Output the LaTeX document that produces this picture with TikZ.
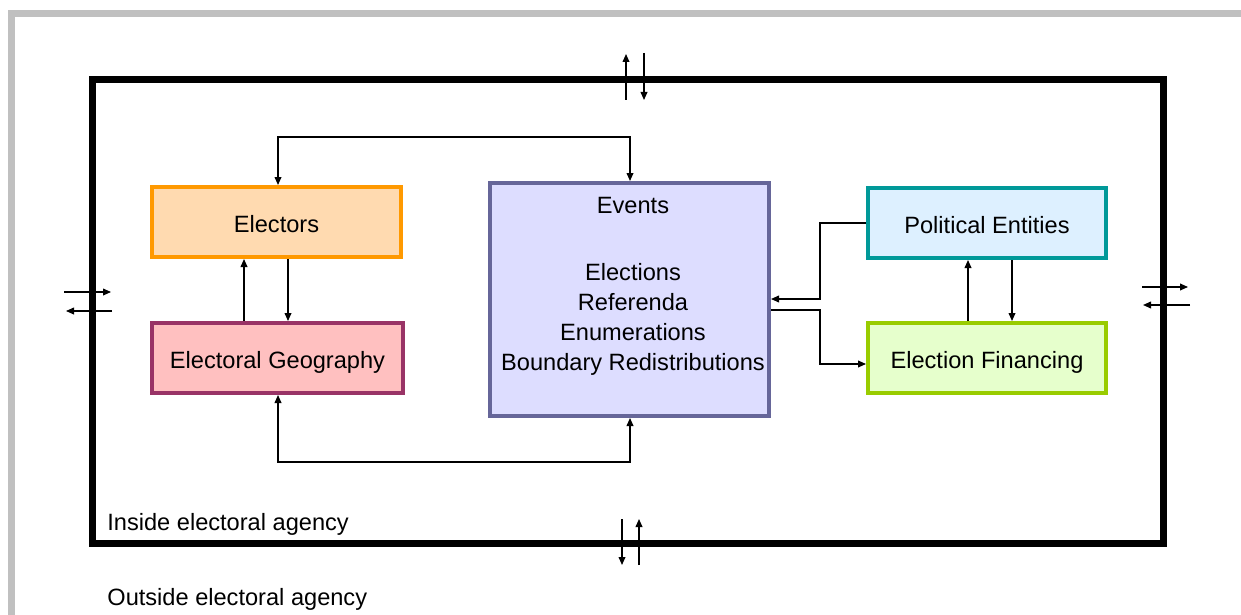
\documentclass[tikz,border=0pt]{standalone}
\usepackage{fontspec}
\setmainfont{Liberation Sans}
\usetikzlibrary{arrows.meta,calc}

\definecolor{pagegray}{HTML}{C0C0C0}
\definecolor{elBorder}{HTML}{FF9900}
\definecolor{elFill}{HTML}{FFDAB0}
\definecolor{egBorder}{HTML}{993366}
\definecolor{egFill}{HTML}{FFC0C0}
\definecolor{evBorder}{HTML}{666699}
\definecolor{evFill}{HTML}{DDDDFF}
\definecolor{peBorder}{HTML}{009999}
\definecolor{peFill}{HTML}{DDF0FF}
\definecolor{efBorder}{HTML}{99CC00}
\definecolor{efFill}{HTML}{E6FFCC}

\begin{document}
\begin{tikzpicture}[x=0.5pt,y=-0.5pt,
  font=\fontsize{11.8pt}{15pt}\selectfont,
  tip/.tip={Triangle[length=4pt,width=3.4pt]},
  conn/.style={line width=0.65pt,-tip},
  twoway/.style={line width=0.65pt,tip-tip},
  unit/.style={draw,line width=2pt,inner sep=0pt,minimum height=35pt,
    text height=10pt,text depth=0pt},
  txt/.style={inner sep=0pt}]

\useasboundingbox (0,0) rectangle (1241,615);

% page edge
\draw[pagegray,line width=3.5pt] (11.5,615) -- (11.5,13.4) -- (1241,13.4);

% agency boundary
\node[draw,line width=3.5pt,minimum width=535.5pt,minimum height=231.5pt,inner sep=0pt]
  (frame) at (627.5,311.5) {};

% units
\node[unit,draw=elBorder,fill=elFill,minimum width=124.5pt] (el) at (276.5,222) {Electors};
\node[unit,draw=egBorder,fill=egFill,minimum width=125.5pt] (eg) at (277.5,358) {Electoral Geography};
\node[draw,line width=2pt,inner sep=0pt,draw=evBorder,fill=evFill,
  minimum width=139.5pt,minimum height=116.5pt] (ev) at (629.5,299.5) {};
\node[txt] (evtitle) at (633,205) {Events};
\node[txt,align=center] (evlist) at (633,319)
  {Elections\\Referenda\\Enumerations\\Boundary Redistributions};
\node[unit,draw=peBorder,fill=peFill,minimum width=119pt] (pe) at (987,223) {Political Entities};
\node[unit,draw=efBorder,fill=efFill,minimum width=119pt] (ef) at (987,358) {Election Financing};

% labels
\node[txt,anchor=west] (inside) at (107,524) {Inside electoral agency};
\node[txt,anchor=west] (outside) at (107,599) {Outside electoral agency};

% helper coordinates
\coordinate (a1) at (244,0);
\coordinate (a2) at (288,0);
\coordinate (b1) at (968,0);
\coordinate (b2) at (1012,0);
\coordinate (jr) at (820,299);
\coordinate (jr2) at (820,310);
\coordinate (jr4) at (820,364);
\coordinate (lt) at (278,137);
\coordinate (rt) at (630,137);
\coordinate (lb) at (278,462);
\coordinate (rb) at (630,462);

% links between units
\draw[conn] (eg.north -| a1) -- (el.south -| a1);
\draw[conn] (el.south -| a2) -- (eg.north -| a2);
\draw[conn] (ef.north -| b1) -- (pe.south -| b1);
\draw[conn] (pe.south -| b2) -- (ef.north -| b2);
\draw[conn] (pe.west) -| (jr) -- (ev.east |- jr);
\draw[conn] (ev.east |- jr2) -| (jr4) -- (ef.west |- jr4);
\draw[twoway] (el.north -| lt) -- (lt) -- (rt) -- (ev.north -| rt);
\draw[twoway] (eg.south -| lb) -- (lb) -- (rb) -- (ev.south -| rb);

% exchanges across the boundary
\coordinate (t1a) at (626,100); \coordinate (t1b) at (626,54);
\coordinate (t2a) at (644,53);  \coordinate (t2b) at (644,100);
\coordinate (d1a) at (622,519); \coordinate (d1b) at (622,565);
\coordinate (d2a) at (639,565); \coordinate (d2b) at (639,519);
\coordinate (l1a) at (64,292);  \coordinate (l1b) at (111,292);
\coordinate (l2a) at (112,311); \coordinate (l2b) at (66,311);
\coordinate (r1a) at (1142,287); \coordinate (r1b) at (1188,287);
\coordinate (r2a) at (1190,305); \coordinate (r2b) at (1143,305);
\draw[conn] (t1a) -- (t1b);
\draw[conn] (t2a) -- (t2b);
\draw[conn] (d1a) -- (d1b);
\draw[conn] (d2a) -- (d2b);
\draw[conn] (l1a) -- (l1b);
\draw[conn] (l2a) -- (l2b);
\draw[conn] (r1a) -- (r1b);
\draw[conn] (r2a) -- (r2b);
\end{tikzpicture}
\end{document}
